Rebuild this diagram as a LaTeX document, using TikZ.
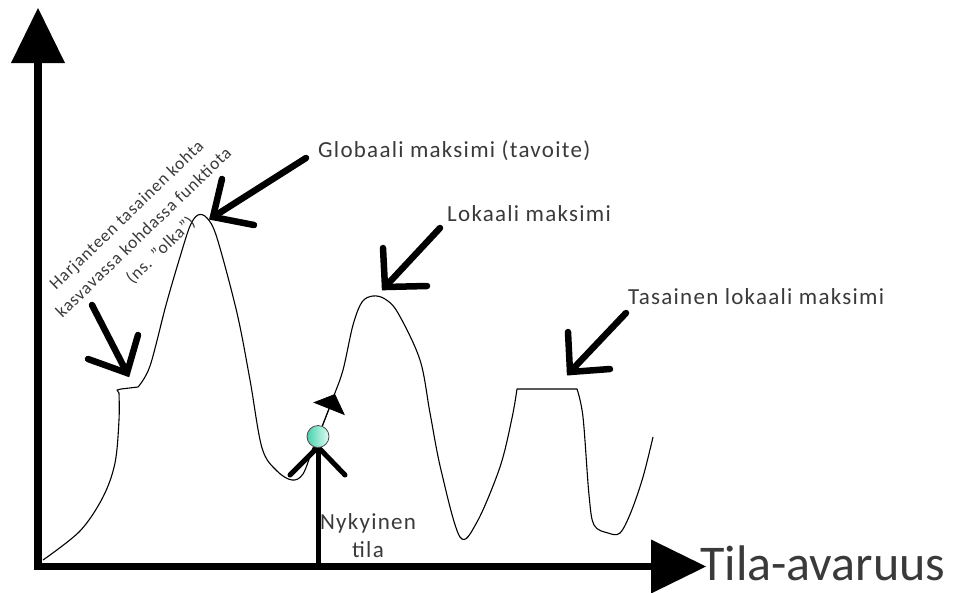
\documentclass[tikz,border=0pt]{standalone}
\usepackage{fontspec}
\setmainfont{Carlito}
\usetikzlibrary{arrows.meta}
\definecolor{txt}{HTML}{3A3A3A}
\definecolor{tealA}{HTML}{48D2AE}
\definecolor{tealB}{HTML}{E2FAF3}
\begin{document}
\begin{tikzpicture}[x=1pt,y=-1pt,
  axisline/.style={line width=7.5pt},
  bigarrow/.style={line width=6.5pt, line cap=round, line join=miter},
  curveline/.style={line width=1.1pt, line join=round},
  lbl/.style={text=txt, inner sep=0pt,
    font=\fontsize{23}{28}\selectfont\addfontfeatures{LetterSpace=5.5}},
  rotlbl/.style={text=txt, inner sep=0pt, align=center,
    font=\fontsize{17.5}{24.5}\selectfont\addfontfeatures{LetterSpace=5}},
  biglbl/.style={text=txt, inner sep=0pt, font=\fontsize{50}{56}\selectfont},
]
\useasboundingbox (0,0) rectangle (956,592);
\fill[white] (0,0) rectangle (956,592);

% axes
\coordinate (O) at (38,570);
\coordinate (ybase) at (38,63);
\coordinate (ytip) at (38,8);
\coordinate (O2) at (34,566.5);
\coordinate (xbase) at (651,566.5);
\coordinate (xtip) at (706,566.5);
\draw[axisline] (O) -- (ybase);
\fill (ytip) -- ++(-27,55) -- ++(54,0) -- cycle;
\draw[axisline, line width=7pt] (O2) -- (xbase);
\fill (xtip) -- ++(-55,-27) -- ++(0,54) -- cycle;

% landscape curve
\draw[curveline]
  plot[smooth,tension=0.55] coordinates {(43,560) (80,531) (103,497) (115,463) (119,420) (119,393)}
  -- (117,390) -- (121,389) -- (138,387)
  -- plot[smooth,tension=0.55] coordinates {(138,387) (150,366) (166,305) (180,257) (190,226) (198,215)
     (207,218) (217,238) (237,313) (250,380) (262,448) (277,471) (292,480) (303,474) (313,448)
     (320,432) (333,398) (343,370) (353,325) (362,302) (373,296) (385,299) (398,313) (420,360)
     (430,413) (441,470) (460,537) (477,522) (500,467) (512,418) (517,389)}
  -- (577,389)
  -- plot[smooth,tension=0.55] coordinates {(577,389) (583,417) (589,495) (594,525) (608,533)
     (620,533) (631,512) (643,477) (653,437)};

% big open arrows
\coordinate (sA) at (92,305);  \coordinate (tA) at (127,373);
\coordinate (aA1) at (88,359); \coordinate (aA2) at (138,335);
\draw[bigarrow] (sA) -- (tA);
\draw[bigarrow] (aA1) -- (tA) -- (aA2);

\coordinate (sB) at (306,158); \coordinate (tB) at (213,217);
\coordinate (aB1) at (222,179); \coordinate (aB2) at (254,225);
\draw[bigarrow] (sB) -- (tB);
\draw[bigarrow] (aB1) -- (tB) -- (aB2);

\coordinate (sC) at (440,228); \coordinate (tC) at (385,287);
\coordinate (aC1) at (383,248); \coordinate (aC2) at (427,286);
\draw[bigarrow] (sC) -- (tC);
\draw[bigarrow] (aC1) -- (tC) -- (aC2);

\coordinate (sD) at (626,313); \coordinate (tD) at (570,372);
\coordinate (aD1) at (568,332); \coordinate (aD2) at (610,369);
\draw[bigarrow] (sD) -- (tD);
\draw[bigarrow] (aD1) -- (tD) -- (aD2);

% current state
\coordinate (cbase) at (318,566);
\coordinate (ctop) at (318,447);
\coordinate (cl) at (290,475);
\coordinate (cr) at (345,475);
\draw[line width=5pt] (cbase) -- (ctop);
\draw[line width=5pt, line cap=round, line join=miter] (cl) -- (ctop) -- (cr);
\coordinate (ctip) at (335,394);
\node[circle, minimum size=22pt, inner sep=0pt, draw=black!70, line width=0.8pt,
      left color=tealA, right color=tealB] (cur) at (318,436.5) {};
\draw[line width=1pt, -{Triangle[length=16pt,width=34pt]}] (cur) -- (ctip);

% labels
\node[lbl, anchor=base west] (glob) at (318,157) {Globaali maksimi (tavoite)};
\node[lbl, anchor=base west] (lok) at (447,221) {Lokaali maksimi};
\node[lbl, anchor=base west] (tas) at (628,304) {Tasainen lokaali maksimi};
\node[lbl, align=center] (nyk) at (368,536) {Nykyinen\\tila};
\node[biglbl, anchor=base west] (tila) at (700,580) {Tila-avaruus};
\node[rotlbl, rotate=44] (olka) at (144,233)
  {Harjanteen tasainen kohta\\kasvavassa kohdassa funktiota\\(ns. ”olka”)};
\end{tikzpicture}
\end{document}
